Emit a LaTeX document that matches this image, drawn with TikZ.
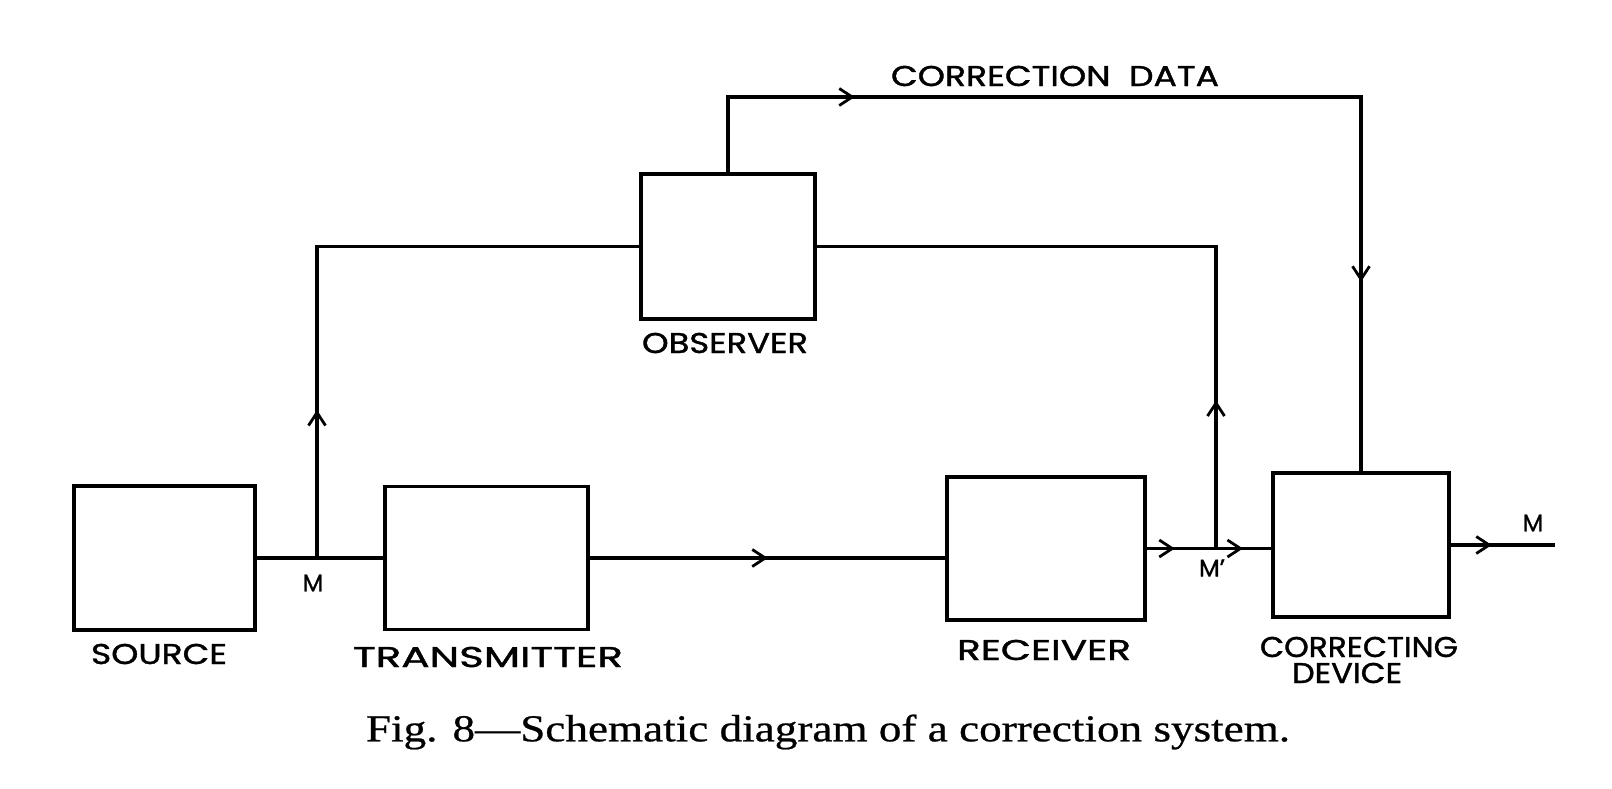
\documentclass[tikz,border=0pt]{standalone}
\usepackage{fontspec}
\setsansfont{Poppins}[FakeBold=1.2]
\newfontfamily\capfont{Liberation Serif}[FakeBold=0.6,Ligatures=TeX]
\usetikzlibrary{arrows.meta,decorations.markings}
\newcommand\fitlbl[2]{\resizebox{#1}{\height}{#2}}
\tikzset{
  chev/.tip={Straight Barb[length=6.5pt,width=8.5pt,line width=1.4pt]},
  arrowat/.style={postaction={decorate,decoration={markings,mark=at position #1 with {\arrow{chev}}}}},
  box/.style={draw,rectangle,inner sep=0pt,line width=1.8pt},
  lab/.style={font=\sffamily\fontsize{14.3}{16}\selectfont,inner sep=0pt},
  small/.style={font=\sffamily\fontsize{12}{14}\selectfont,inner sep=0pt},
  conn/.style={line width=1.6pt}
}
\begin{document}
\begin{tikzpicture}[x=0.5pt,y=-0.5pt]
\useasboundingbox[fill=white] (0,0) rectangle (1612,788);
% boxes
\node[box,minimum width=90.5pt,minimum height=72pt] (src) at (164.5,558) {};
\node[box,minimum width=101.5pt,minimum height=71.5pt] (tx) at (486.5,558) {};
\node[box,minimum width=99pt,minimum height=71.5pt] (rx) at (1046,548.5) {};
\node[box,minimum width=88pt,minimum height=72pt] (cd) at (1361,545) {};
\node[box,minimum width=87pt,minimum height=72.5pt] (obs) at (728,246.5) {};
% coordinates
\coordinate (m) at (317,558);
\coordinate (mp) at (1216,548.5);
\coordinate (top) at (1000,97);
\coordinate (out) at (1555,545);
% connectors
\draw[conn] (src.east) -- (tx.west);
\draw[conn,arrowat=74pt] (m) |- (obs.west);
\draw[conn,arrowat=89pt] (tx.east) -- (tx.east -| rx.west);
\draw[conn,arrowat=14pt] (rx.east) -- (mp);
\draw[conn,arrowat=13.5pt] (mp) -- (mp -| cd.west);
\draw[conn,arrowat=74pt] (mp) |- (obs.east);
\draw[conn,arrowat=101pt,arrowat=446.5pt] (obs.north) -- (obs.north |- top) -- (cd.north |- top) -- (cd.north);
\draw[conn,arrowat=20.5pt] (cd.east) -- (out);
% labels
\node[lab] (lsrc) at (159,654) {\fitlbl{68pt}{SOURCE}};
\node[lab] (ltx) at (488,657) {\fitlbl{135pt}{TRANSMITTER}};
\node[lab] (lrx) at (1044,650) {\fitlbl{87pt}{RECEIVER}};
\node[lab] (lobs) at (725,343) {\fitlbl{83pt}{OBSERVER}};
\node[lab] (lcd1) at (1359,647) {\fitlbl{99pt}{CORRECTING}};
\node[lab] (lcd2) at (1347,673) {\fitlbl{55pt}{DEVICE}};
\node[lab] (ldata) at (1055,76) {\fitlbl{164pt}{CORRECTION\ \ DATA}};
\node[small] (lm) at (313,583) {M};
\node[small] (lmp) at (1212,568) {M\textquoteright};
\node[small] (lmo) at (1533,523) {M};
\node[inner sep=0pt,font=\capfont\fontsize{19}{22}\selectfont] (cap) at (828,732) {\fitlbl{462pt}{Fig. 8\textemdash Schematic diagram of a correction system.}};
\end{tikzpicture}
\end{document}
